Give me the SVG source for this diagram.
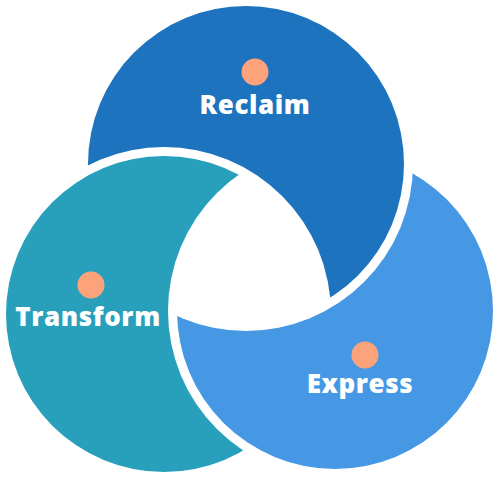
<svg xmlns="http://www.w3.org/2000/svg" width="500" height="490" viewBox="0 0 500 490">
  <style>
    .label { font-family: "Open Sans", "Liberation Sans", sans-serif; font-weight: 800; font-size: 26px; fill: #ffffff; text-anchor: middle; letter-spacing: 0.6px; }
    .dot { fill: #FCA37B; }
  </style>
  <defs>
    <mask id="cutByTransform" maskUnits="userSpaceOnUse" x="0" y="0" width="500" height="490">
      <rect x="0" y="0" width="500" height="490" fill="#fff"/>
      <circle cx="164" cy="314" r="167" fill="#000"/>
    </mask>
    <mask id="cutByExpress" maskUnits="userSpaceOnUse" x="0" y="0" width="500" height="490">
      <rect x="0" y="0" width="500" height="490" fill="#fff"/>
      <circle cx="335" cy="311" r="167" fill="#000"/>
    </mask>
    <mask id="cutByReclaim" maskUnits="userSpaceOnUse" x="0" y="0" width="500" height="490">
      <rect x="0" y="0" width="500" height="490" fill="#fff"/>
      <circle cx="246" cy="164" r="167" fill="#000"/>
    </mask>
  </defs>
  <rect x="0" y="0" width="500" height="490" fill="#ffffff"/>
  <g id="connectors"></g>
  <g id="reclaim">
    <circle cx="246" cy="164" r="158" fill="#1E73BE" mask="url(#cutByTransform)"/>
    <circle class="dot" cx="255" cy="72" r="13.5"/>
    <text class="label" x="255" y="114">Reclaim</text>
  </g>
  <g id="transform">
    <circle cx="164" cy="314" r="158" fill="#28A0BC" mask="url(#cutByExpress)"/>
    <circle class="dot" cx="91" cy="285" r="13.5"/>
    <text class="label" x="88" y="326">Transform</text>
  </g>
  <g id="express">
    <circle cx="335" cy="311" r="158" fill="#4698E4" mask="url(#cutByReclaim)"/>
    <circle class="dot" cx="365" cy="355" r="13.5"/>
    <text class="label" x="360" y="393">Express</text>
  </g>
</svg>
